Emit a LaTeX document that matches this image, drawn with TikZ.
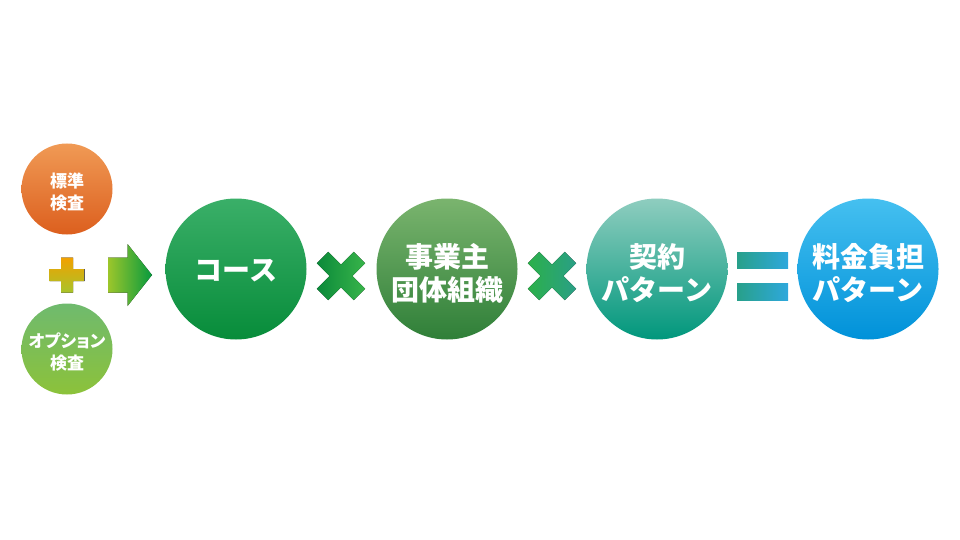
\documentclass[tikz,border=0pt]{standalone}
\usepackage{fontspec}
\newfontfamily\jp{Noto Sans CJK JP}
\newfontfamily\jpp{Noto Sans CJK JP}[RawFeature=+palt]
\definecolor{orT}{HTML}{F09A55}\definecolor{orM}{HTML}{EC6C10}\definecolor{orB}{HTML}{DC5F1E}
\definecolor{opT}{HTML}{6FBA6E}\definecolor{opB}{HTML}{8CC23A}
\definecolor{plT}{HTML}{F2A100}\definecolor{plB}{HTML}{A8C42A}
\definecolor{arL}{HTML}{9CC62B}\definecolor{arR}{HTML}{079A3E}
\definecolor{coT}{HTML}{3AAF68}\definecolor{coM}{HTML}{0C9F4A}\definecolor{coB}{HTML}{078C3A}
\definecolor{xaL}{HTML}{0B8A3A}\definecolor{xaR}{HTML}{38B44A}
\definecolor{jiT}{HTML}{7AB46E}\definecolor{jiB}{HTML}{2F7F38}
\definecolor{xbL}{HTML}{2BB04A}\definecolor{xbR}{HTML}{2A9F86}
\definecolor{keT}{HTML}{8FCDBF}\definecolor{keM}{HTML}{00A99B}\definecolor{keB}{HTML}{00977C}
\definecolor{eqL}{HTML}{28A08A}\definecolor{eqR}{HTML}{2EA8DD}
\definecolor{ryT}{HTML}{45C0F0}\definecolor{ryM}{HTML}{00ACEB}\definecolor{ryB}{HTML}{0091D9}
\tikzset{
  bigc/.style={circle,minimum size=141pt,inner sep=0pt},
  smallc/.style={circle,minimum size=91pt,inner sep=0pt},
  bigt/.style={text=white,align=center,inner sep=0pt,
    font=\jp\bfseries\fontsize{28}{33}\selectfont},
  smallt/.style={text=white,align=center,inner sep=0pt,
    font=\jpp\bfseries\fontsize{17}{22}\selectfont},
}
\begin{document}
\begin{tikzpicture}[x=1pt,y=-1pt]
\useasboundingbox (0,0) rectangle (960,540);
% small circles
\node[smallc,top color=orT,middle color=orM,bottom color=orB] (std) at (67,189) {};
\node[smallt] (stdt) at ([yshift=-3pt]std.center) {標準\\検査};
\node[smallc,top color=opT,bottom color=opB] (opt) at (67,349) {};
\node[smallt] (optt) at ([yshift=-3pt]opt.center) {オプション\\検査};
% plus
\coordinate (plus) at (67,275);
\fill[top color=plT,bottom color=plB]
  ([shift={(-6,-17.5)}]plus) -- ([shift={(6,-17.5)}]plus) -- ([shift={(6,-6)}]plus) --
  ([shift={(17.5,-6)}]plus) -- ([shift={(17.5,6)}]plus) -- ([shift={(6,6)}]plus) --
  ([shift={(6,17.5)}]plus) -- ([shift={(-6,17.5)}]plus) -- ([shift={(-6,6)}]plus) --
  ([shift={(-17.5,6)}]plus) -- ([shift={(-17.5,-6)}]plus) -- ([shift={(-6,-6)}]plus) -- cycle;
% arrow
\coordinate (arr) at (108,275);
\fill[left color=arL,right color=arR]
  ([shift={(0,-17.5)}]arr) -- ([shift={(19.5,-17.5)}]arr) -- ([shift={(19.5,-31)}]arr) --
  ([shift={(44,0)}]arr) -- ([shift={(19.5,31)}]arr) -- ([shift={(19.5,17.5)}]arr) --
  ([shift={(0,17.5)}]arr) -- cycle;
% big circles
\node[bigc,top color=coT,middle color=coM,bottom color=coB] (course) at (236,269) {};
\node[bigt] (courset) at ([yshift=-2pt]course.center) {コース};
\node[bigc,top color=jiT,bottom color=jiB] (jigyo) at (447,269) {};
\node[bigt] (jigyot) at ([yshift=-4pt]jigyo.center) {事業主\\団体組織};
\node[bigc,top color=keT,middle color=keM,bottom color=keB] (keiyaku) at (657,269) {};
\node[bigt] (keiyakut) at ([yshift=-4pt]keiyaku.center) {契約\\パターン};
\node[bigc,top color=ryT,middle color=ryM,bottom color=ryB] (ryokin) at (868,269) {};
\node[bigt] (ryokint) at ([yshift=-4pt]ryokin.center) {料金負担\\パターン};
% crosses
\coordinate (xa) at (341,276);
\coordinate (xb) at (552,276);
\foreach \xc/\l/\r in {xa/xaL/xaR,xb/xbL/xbR}{
  \fill[left color=\l,right color=\r]
    ([shift={(24.04,12.73)}]\xc) -- ([shift={(12.73,24.04)}]\xc) -- ([shift={(0,11.31)}]\xc) --
    ([shift={(-12.73,24.04)}]\xc) -- ([shift={(-24.04,12.73)}]\xc) -- ([shift={(-11.31,0)}]\xc) --
    ([shift={(-24.04,-12.73)}]\xc) -- ([shift={(-12.73,-24.04)}]\xc) -- ([shift={(0,-11.31)}]\xc) --
    ([shift={(12.73,-24.04)}]\xc) -- ([shift={(24.04,-12.73)}]\xc) -- ([shift={(11.31,0)}]\xc) -- cycle;
}
% equals
\fill[left color=eqL,right color=eqR] (737,252) rectangle (788,268);
\fill[left color=eqL,right color=eqR] (737,283) rectangle (788,300);
\end{tikzpicture}
\end{document}
